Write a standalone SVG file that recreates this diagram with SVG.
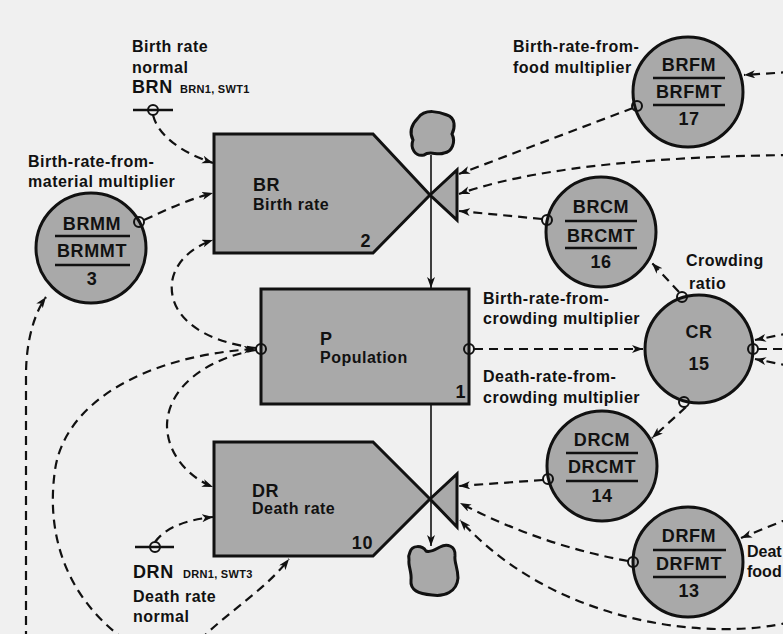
<svg xmlns="http://www.w3.org/2000/svg" width="783" height="634" viewBox="0 0 783 634">
<defs>
<marker id="ah" markerUnits="userSpaceOnUse" markerWidth="12" markerHeight="9" refX="11" refY="4" orient="auto">
<path d="M0,0 L11,4 L0,8 L3,4 Z" fill="#111"/>
</marker>
<style>
.bg{fill:#f0f0f0}
.node{fill:#a9a9a9;stroke:#111;stroke-width:3;stroke-linejoin:miter}
.aux{fill:#a9a9a9;stroke:#111;stroke-width:3}
.tap{fill:none;stroke:#111;stroke-width:2}
.bar{stroke:#111;stroke-width:2.5}
.dash{fill:none;stroke:#111;stroke-width:2.2;stroke-dasharray:9 6}
.flow{fill:none;stroke:#111;stroke-width:1.6}
.t{font-family:"Liberation Sans",Arial,sans-serif;font-weight:bold;fill:#111}
.lbl{font-size:16px;letter-spacing:0.5px}
.big{font-size:18px;letter-spacing:0.6px}
.sym{font-size:18px;letter-spacing:0.5px}
.small{font-size:11px;letter-spacing:0.3px}
.edge{font-size:16px;letter-spacing:0px}
.mid{text-anchor:middle}
.end{text-anchor:end}
</style>
</defs>
<rect class="bg" x="0" y="0" width="783" height="634"/>

<g id="connectors">
<path class="flow" d="M431,155 L431,288" marker-end="url(#ah)"/>
<path class="flow" d="M431,404 L431,546" marker-end="url(#ah)"/>
<path class="dash" d="M153,115 C158,135 180,152 213,163" marker-end="url(#ah)"/>
<path class="dash" d="M144,220 C170,208 190,199 213,193" marker-end="url(#ah)"/>
<path class="dash" d="M256,348 C205,342 168,318 172,282 C175,262 192,247 213,240" marker-end="url(#ah)"/>
<path class="dash" d="M256,350 C210,358 168,385 167,425 C167,455 190,478 213,487" marker-end="url(#ah)"/>
<path class="dash" d="M155,542 C165,528 185,520 213,517" marker-end="url(#ah)"/>
<path class="dash" d="M200,640 C230,610 265,590 289,559" marker-end="url(#ah)"/>
<path class="dash" d="M125,640 C70,600 45,540 55,470 C65,400 150,355 255,349" marker-end="url(#ah)"/>
<path class="dash" d="M26,640 L26,375 C26,340 35,312 46,297" marker-end="url(#ah)"/>
<path class="dash" d="M633,108 L459,174" marker-end="url(#ah)"/>
<path class="dash" d="M790,155 Q560,158 459,194" marker-end="url(#ah)"/>
<path class="dash" d="M542,219 L459,211" marker-end="url(#ah)"/>
<path class="dash" d="M679,292 L652,263" marker-end="url(#ah)"/>
<path class="dash" d="M474,349 L643,349" marker-end="url(#ah)"/>
<path class="dash" d="M686,407 L652,438" marker-end="url(#ah)"/>
<path class="dash" d="M790,333 L755,340" marker-end="url(#ah)"/>
<path class="dash" d="M790,366 L755,359" marker-end="url(#ah)"/>
<path class="dash" d="M758,349 L790,349"/>
<path class="dash" d="M790,72 L744,75" marker-end="url(#ah)"/>
<path class="dash" d="M543,480 L459,486" marker-end="url(#ah)"/>
<path class="dash" d="M628,561 Q540,545 460,503" marker-end="url(#ah)"/>
<path class="dash" d="M790,622 C720,640 560,630 460,520" marker-end="url(#ah)"/>
<path class="dash" d="M790,518 L741,538" marker-end="url(#ah)"/>
</g>

<g id="source-cloud">
<path class="node" stroke-width="2.5" d="M418,118 C425,108 440,112 447,115 C456,118 455,128 452,134 C456,142 452,152 444,153 C437,156 430,150 424,155 C415,157 410,148 413,140 C409,132 412,124 418,118 Z"/>
</g>
<g id="sink-cloud">
<path class="node" stroke-width="2.5" d="M410,552 C412,545 422,545 426,551 C431,553 436,549 440,547 C447,543 456,546 455,556 C454,562 458,568 458,578 C457,592 444,597 432,595 C418,594 410,590 411,580 C412,572 408,566 409,560 C408,556 409,554 410,552 Z"/>
</g>

<g id="BRN">
<line class="bar" x1="133" y1="110" x2="173" y2="110"/>
<circle class="tap" cx="153" cy="110" r="5" fill="#f0f0f0"/>
<text class="t lbl" x="132" y="52">Birth rate</text>
<text class="t lbl" x="132" y="73">normal</text>
<text class="t big" x="132" y="93">BRN</text>
<text class="t small" x="180" y="93">BRN1, SWT1</text>
</g>

<g id="BR">
<polygon class="node" points="214,134 373,134 430,195 373,253 214,253"/>
<polygon class="node" points="430,195 457,170 457,220"/>
<text class="t sym" x="253" y="191">BR</text>
<text class="t lbl" x="253" y="210">Birth rate</text>
<text class="t big end" x="371" y="247">2</text>
</g>

<g id="P">
<rect class="node" x="261" y="289" width="208" height="115"/>
<circle class="tap" cx="261" cy="349" r="5"/>
<circle class="tap" cx="469" cy="349" r="5"/>
<text class="t sym" x="320" y="345">P</text>
<text class="t lbl" x="320" y="363">Population</text>
<text class="t big end" x="466" y="398">1</text>
</g>

<g id="DR">
<polygon class="node" points="214,442 373,442 430,499 373,556 214,556"/>
<polygon class="node" points="430,499 457,474 457,527"/>
<text class="t sym" x="252" y="497">DR</text>
<text class="t lbl" x="252" y="514">Death rate</text>
<text class="t big end" x="373" y="549">10</text>
</g>

<g id="DRN">
<line class="bar" x1="135" y1="547" x2="174" y2="547"/>
<circle class="tap" cx="155" cy="547" r="5" fill="#f0f0f0"/>
<text class="t big" x="133" y="578">DRN</text>
<text class="t small" x="183" y="578">DRN1, SWT3</text>
<text class="t lbl" x="133" y="602">Death rate</text>
<text class="t lbl" x="133" y="622">normal</text>
</g>

<g id="BRMM">
<circle class="aux" cx="91" cy="248" r="55"/>
<circle class="tap" cx="139" cy="222" r="5"/>
<text class="t big mid" x="92" y="230">BRMM</text>
<line class="bar" x1="55" y1="236" x2="130" y2="236"/>
<text class="t big mid" x="92" y="257">BRMMT</text>
<line class="bar" x1="55" y1="265" x2="130" y2="265"/>
<text class="t big mid" x="92" y="285">3</text>
<text class="t lbl" x="28" y="167">Birth-rate-from-</text>
<text class="t lbl" x="28" y="187">material multiplier</text>
</g>

<g id="BRFM">
<circle class="aux" cx="688" cy="92" r="55"/>
<circle class="tap" cx="637" cy="106" r="5"/>
<text class="t big mid" x="689" y="71">BRFM</text>
<line class="bar" x1="653" y1="78" x2="725" y2="78"/>
<text class="t big mid" x="689" y="98">BRFMT</text>
<line class="bar" x1="653" y1="105" x2="725" y2="105"/>
<text class="t big mid" x="689" y="125">17</text>
<text class="t lbl" x="513" y="52">Birth-rate-from-</text>
<text class="t lbl" x="513" y="73">food multiplier</text>
</g>

<g id="BRCM">
<circle class="aux" cx="601" cy="232" r="55"/>
<circle class="tap" cx="547" cy="220" r="5"/>
<text class="t big mid" x="601" y="213">BRCM</text>
<line class="bar" x1="565" y1="221" x2="637" y2="221"/>
<text class="t big mid" x="601" y="242">BRCMT</text>
<line class="bar" x1="565" y1="248" x2="637" y2="248"/>
<text class="t big mid" x="601" y="268">16</text>
</g>

<g id="CR">
<circle class="aux" cx="699" cy="349" r="54"/>
<circle class="tap" cx="682" cy="297" r="5"/>
<circle class="tap" cx="684" cy="402" r="5"/>
<circle class="tap" cx="753" cy="349" r="5"/>
<text class="t big mid" x="699" y="338">CR</text>
<text class="t big mid" x="699" y="370">15</text>
<text class="t lbl" x="686" y="266">Crowding</text>
<text class="t lbl" x="689" y="289">ratio</text>
<text class="t lbl" x="483" y="304">Birth-rate-from-</text>
<text class="t lbl" x="483" y="324">crowding multiplier</text>
<text class="t lbl" x="483" y="382">Death-rate-from-</text>
<text class="t lbl" x="483" y="403">crowding multiplier</text>
</g>

<g id="DRCM">
<circle class="aux" cx="602" cy="466" r="55"/>
<circle class="tap" cx="548" cy="479" r="5"/>
<text class="t big mid" x="602" y="446">DRCM</text>
<line class="bar" x1="566" y1="453" x2="638" y2="453"/>
<text class="t big mid" x="602" y="473">DRCMT</text>
<line class="bar" x1="566" y1="481" x2="638" y2="481"/>
<text class="t big mid" x="602" y="502">14</text>
</g>

<g id="DRFM">
<circle class="aux" cx="688" cy="562" r="55"/>
<circle class="tap" cx="633" cy="562" r="5"/>
<text class="t big mid" x="689" y="542">DRFM</text>
<line class="bar" x1="653" y1="550" x2="726" y2="550"/>
<text class="t big mid" x="689" y="570">DRFMT</text>
<line class="bar" x1="653" y1="577" x2="726" y2="577"/>
<text class="t big mid" x="689" y="597">13</text>
<text class="t edge" x="747" y="557">Deat</text>
<text class="t edge" x="747" y="577">food</text>
</g>
</svg>
